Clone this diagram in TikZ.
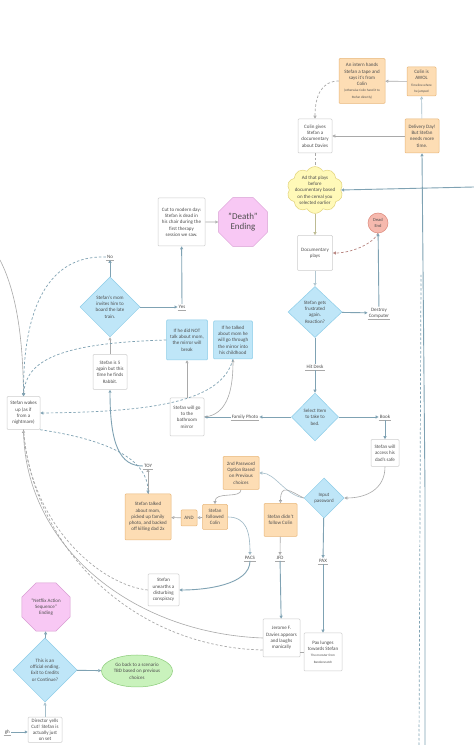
\documentclass[tikz,border=0pt]{standalone}
\usepackage{fontspec}
\setmainfont{Carlito}
\usetikzlibrary{shapes.geometric,shapes.symbols,arrows.meta}

\definecolor{inkGrey}{HTML}{4E4E4E}
\definecolor{peachFill}{HTML}{FDDDB4}
\definecolor{peachLine}{HTML}{E9B77A}
\definecolor{skyFill}{HTML}{BFE6F8}
\definecolor{skyLine}{HTML}{8CCDE8}
\definecolor{pinkFill}{HTML}{F8C8F4}
\definecolor{pinkLine}{HTML}{D89CD2}
\definecolor{roseFill}{HTML}{F6B9AE}
\definecolor{roseLine}{HTML}{DD8A7C}
\definecolor{lemonFill}{HTML}{FFF9B8}
\definecolor{lemonLine}{HTML}{E2D37C}
\definecolor{mintFill}{HTML}{C9F2BC}
\definecolor{mintLine}{HTML}{8ACB78}
\definecolor{boxLine}{HTML}{CDCDCD}
\definecolor{steel}{HTML}{7FA2B3}
\definecolor{ash}{HTML}{A9A9A9}
\definecolor{khaki}{HTML}{BDBB93}
\definecolor{clay}{HTML}{B88580}

\newcommand{\notefont}{\fontsize{3.3}{4}\selectfont}

\begin{document}
\begin{tikzpicture}[
    x=1pt, y=1pt,
    font=\fontsize{5}{6.3}\selectfont, text=inkGrey,
    plainBox/.style={
        rectangle, rounded corners=1pt, draw=boxLine, line width=0.5pt,
        fill=white, align=center, inner sep=1pt
    },
    pathBox/.style={plainBox, draw=peachLine, fill=peachFill},
    mirrorBox/.style={plainBox, draw=skyLine, fill=skyFill},
    decision/.style={
        diamond, draw=skyLine, fill=skyFill, line width=0.5pt,
        align=center, inner sep=0pt
    },
    ending/.style={
        regular polygon, regular polygon sides=8, draw=pinkLine, fill=pinkFill,
        line width=0.5pt, align=center, inner sep=0pt
    },
    deadEnd/.style={
        circle, draw=roseLine, fill=roseFill, line width=0.5pt,
        minimum size=20, inner sep=0pt, align=center, font=\fontsize{4.5}{5.5}\selectfont
    },
    adCloud/.style={
        cloud, cloud puffs=10, cloud puff arc=120, aspect=1.3, draw=lemonLine,
        fill=lemonFill, line width=0.5pt, align=center, inner sep=-2pt
    },
    retryOval/.style={
        ellipse, draw=mintLine, fill=mintFill, line width=0.5pt,
        minimum width=71, minimum height=32, inner sep=0pt, align=center
    },
    choiceLabel/.style={
        inner sep=1pt, align=center,
        append after command={(\tikzlastnode.south west) edge[draw=ash, line width=0.4pt] (\tikzlastnode.south east)}
    },
    mainEdge/.style={
        -{Triangle[open, length=3pt, width=3pt]}, draw=steel, line width=0.9pt
    },
    greyEdge/.style={
        -{Triangle[open, length=3pt, width=3pt]}, draw=ash, line width=0.6pt
    },
    dashEdge/.style={
        -{Triangle[open, length=3pt, width=3pt]}, draw=steel, line width=0.7pt,
        dash pattern=on 2.5pt off 2pt
    }
]

\useasboundingbox (0,0) rectangle (474,745);
\fill[white] (0,0) rectangle (474,745);
\clip (0,0) rectangle (474,745);

% Top right: Colin / delivery day branch
\node[pathBox, minimum width=46, minimum height=45] (intern) at (362,664) {An intern hands\\Stefan a tape and\\says it's from\\Colin\\\notefont (otherwise Colin hand it to\\\notefont Stefan directly)};
\node[pathBox, minimum width=29, minimum height=29] (awol) at (421.5,663.5) {Colin is\\AWOL\\\notefont Timeline where\\\notefont he jumped};
\node[pathBox, minimum width=34, minimum height=34] (delivery) at (422,609) {Delivery Day!\\But Stefan\\needs more\\time.};
\node[plainBox, minimum width=34, minimum height=34] (colin) at (315,609) {Colin gives\\Stefan a\\documentary\\about Davies};

\draw[greyEdge] (awol) -- (intern);
\draw[greyEdge, draw=steel!70] (delivery) -- (awol);
\draw[greyEdge] (delivery) -- (colin);
\draw[dashEdge, draw=ash] (intern.west) .. controls (322,664) and (315,650) .. (colin.north);

% Documentary / computer
\node[adCloud] (ad) at (315,555) {Ad that plays\\before\\documentary based\\on the cereal you\\selected earlier};
\node[plainBox, minimum width=35, minimum height=35] (docplays) at (315,492) {Documentary\\plays};
\node[deadEnd] (dead) at (378,522) {Dead\\End};
\node[decision, minimum width=54, minimum height=51] (frustrated) at (315,433) {Stefan gets\\frustrated\\again.\\Reaction?};
\node[choiceLabel] (destroy) at (379,432) {Destroy\\Computer};
\node[choiceLabel] (hitdesk) at (315,378) {Hit Desk};

\coordinate (adFeed) at (474,558);
\coordinate (deliveryFeed) at (425,0);
\coordinate (timelineFoot) at (419,0);
\coordinate (timelineTop) at (421,470);

\draw[dashEdge, -, draw=ash] (colin) -- (ad);
\draw[mainEdge] (adFeed) -- (ad.east);
\draw[mainEdge] (deliveryFeed) -- (425,252) -- (delivery.south);
\draw[dashEdge, -] (timelineFoot) -- (timelineTop);
\draw[greyEdge, draw=khaki] (ad) -- (docplays);
\draw[dashEdge, draw=clay] (dead.south) .. controls (372,500) and (350,492) .. (docplays.east);
\draw[greyEdge, draw=steel!60] (docplays) -- (frustrated);
\draw[mainEdge] (frustrated) -- (destroy);
\draw[mainEdge] (destroy) -- (dead);
\draw[mainEdge, -] (frustrated) -- (hitdesk);

% Bedtime item and password
\node[decision, minimum width=47, minimum height=48] (select) at (315,328) {Select Item\\to take to\\bed.};
\node[choiceLabel] (book) at (385,328) {Book};
\node[plainBox, minimum width=28, minimum height=27] (safe) at (385,292) {Stefan will\\access his\\dad's safe};
\node[decision, minimum width=40, minimum height=40] (password) at (324,247) {Input\\password};
\node[pathBox, minimum width=36, minimum height=33] (secondpw) at (241,272) {2nd Password\\Option Based\\on Previous\\choices};
\node[pathBox, minimum width=25, minimum height=25] (followed) at (215,228) {Stefan\\followed\\Colin};
\node[pathBox, minimum width=16, minimum height=16] (and) at (189,227) {AND};
\node[pathBox, minimum width=33, minimum height=33] (didnt) at (280.5,225) {Stefan didn't\\follow Colin};
\node[choiceLabel] (pacs) at (250,187) {PACS};
\node[choiceLabel] (jfd) at (280,187) {JFD};
\node[choiceLabel] (pax) at (323,184) {PAX};
\node[plainBox, minimum width=31, minimum height=32] (unearths) at (163.5,155) {Stefan\\unearths a\\disturbing\\conspiracy};
\node[plainBox, minimum width=37, minimum height=38] (jerome) at (281.5,107) {Jerome F.\\Davies appears\\and laughs\\manically};
\node[plainBox, minimum width=38, minimum height=38] (lunge) at (323,93) {Pax lunges\\towards Stefan\\\notefont The monster from\\\notefont Bandersnatch};

\draw[mainEdge] (hitdesk) -- (select);
\draw[mainEdge] (select) -- (book);
\draw[mainEdge] (book) -- (safe);
\draw[greyEdge] (safe.south) .. controls (385,255) and (365,247) .. (password.east);
\draw[greyEdge, draw=steel!70] (password.west) .. controls (285,250) and (275,272) .. (secondpw.east);
\draw[greyEdge] (password.west) .. controls (290,254) and (280.5,262) .. (didnt.north);
\draw[greyEdge] (secondpw.south) .. controls (241,246) and (215,254) .. (followed.north);
\draw[greyEdge] (followed) -- (and);
\draw[greyEdge, draw=steel!80] (followed.east) .. controls (246,228) and (250,214) .. (pacs.north);
\draw[mainEdge] (pacs.south) .. controls (250,160) and (205,155) .. (unearths.east);
\draw[greyEdge] (didnt) -- (jfd);
\draw[mainEdge] (jfd) -- (jerome);
\draw[mainEdge] (password) -- (pax);
\draw[mainEdge] (pax) -- (lunge);
\draw[draw=ash, line width=0.6pt] (jerome.east |- lunge) -- (lunge.west);

% Childhood / mirror branch
\node[pathBox, minimum width=46, minimum height=46] (talked) at (148,228) {Stefan talked\\about mom,\\picked up family\\photo, and backed\\off killing dad 2x};
\node[choiceLabel] (toy) at (148,279) {TOY};
\node[plainBox, minimum width=34, minimum height=35] (five) at (110,373) {Stefan is 5\\again but this\\time he finds\\Rabbit.};
\node[decision, minimum width=60, minimum height=60] (mom) at (110,438) {Stefan's mom\\invites him to\\board the late\\train.};
\node[choiceLabel] (no) at (110,488) {No};
\node[choiceLabel] (yes) at (182,438) {Yes};
\node[plainBox, minimum width=47, minimum height=48] (cut) at (181.5,523) {Cut to modern day:\\Stefan is dead in\\his chair during the\\first therapy\\session we saw.};
\node[ending, minimum size=53, font=\fontsize{9}{10.5}\selectfont] (death) at (243,523) {"Death"\\Ending};
\node[mirrorBox, minimum width=41, minimum height=40] (notalk) at (187,405) {If he did NOT\\talk about mom,\\the mirror will\\break};
\node[mirrorBox, minimum width=39, minimum height=38] (talkmom) at (233,405) {If he talked\\about mom he\\will go through\\the mirror into\\his childhood};
\node[plainBox, minimum width=34, minimum height=38] (bathroom) at (187,328) {Stefan will go\\to the\\bathroom\\mirror};
\node[choiceLabel] (photo) at (245,328) {Family Photo};
\node[plainBox, minimum width=33, minimum height=33] (wakes) at (23.5,332) {Stefan wakes\\up (as if\\from a\\nightmare)};

\draw[greyEdge] (and) -- (talked);
\draw[greyEdge] (talked) -- (toy);
\draw[mainEdge] (toy.west) .. controls (120,279) and (110,300) .. (five.south);
\draw[greyEdge] (five) -- (mom);
\draw[mainEdge] (mom) -- (no);
\draw[mainEdge] (mom) -- (yes);
\draw[mainEdge] (yes) -- (cut);
\draw[greyEdge] (cut) -- (death);
\draw[mainEdge] (select) -- (photo);
\draw[mainEdge] (photo) -- (bathroom);
\draw[greyEdge] (bathroom) -- (notalk);
\draw[greyEdge] (bathroom.east) .. controls (226,330) and (233,352) .. (talkmom.south);

% Loops back to waking up
\coordinate (leftFeed) at (0,485);
\draw[greyEdge] (leftFeed) .. controls (18,450) and (23,400) .. (wakes.north);
\draw[dashEdge] (no.west) .. controls (50,490) and (23,440) .. (wakes.north);
\draw[dashEdge] (notalk.west) .. controls (60,402) and (26,385) .. (wakes.north);
\draw[dashEdge] (talkmom.south) .. controls (222,345) and (160,333) .. (wakes.east);
\draw[dashEdge] (wakes.south east) .. controls (110,305) and (148,285) .. (talked.north);
\draw[greyEdge] (jerome.west) .. controls (130,112) and (26,200) .. (wakes.south);
\draw[dashEdge, -, draw=ash] (unearths.west) .. controls (100,160) and (30,220) .. (wakes.south);
\draw[dashEdge, -, draw=ash] ([yshift=-12pt]jerome.west) .. controls (130,98) and (32,200) .. (wakes.south);

% Bottom left: official ending
\node[ending, minimum size=52] (netflix) at (46,138) {"Netflix Action\\Sequence"\\Ending};
\node[decision, minimum width=64, minimum height=64] (official) at (45,75) {This is an\\official ending.\\Exit to Credits\\or Continue?};
\node[retryOval] (goback) at (137,74) {Go back to a scenario\\TBD based on previous\\choices};
\node[plainBox, minimum width=34, inner sep=2pt, anchor=north, font=\fontsize{5}{5.9}\selectfont] (director) at (45,28) {Director yells\\Cut! Stefan is\\actually just\\on set};
\node[choiceLabel, anchor=east] (laugh) at (11,13) {gh};

\draw[greyEdge, draw=steel!70] (director) -- (official);
\draw[mainEdge] (official) -- (netflix);
\draw[mainEdge] (official) -- (goback);
\draw[mainEdge] (laugh.east) -- (laugh.east -| director.west);

\end{tikzpicture}
\end{document}
